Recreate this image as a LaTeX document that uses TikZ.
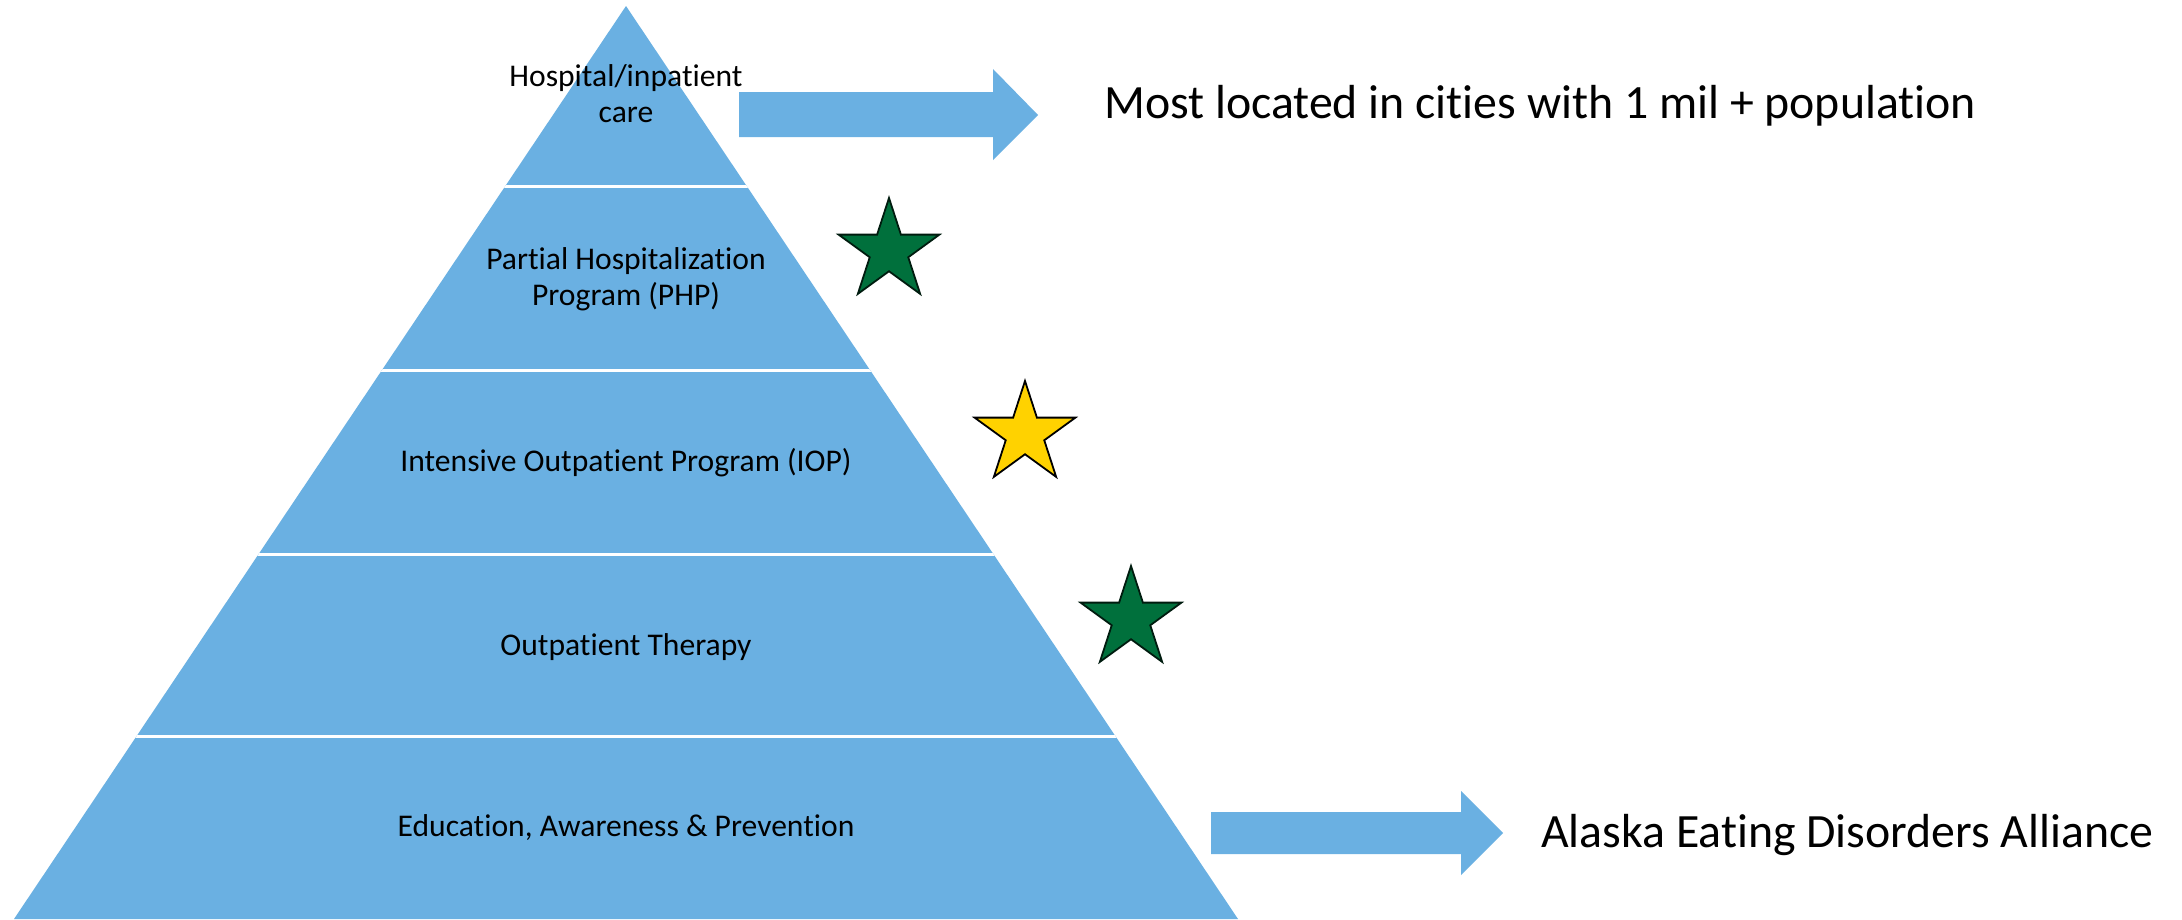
\documentclass[tikz,border=0pt]{standalone}
\usepackage{fontspec}
\setmainfont[Ligatures=NoCommon]{Carlito}
\usetikzlibrary{shapes.geometric}
\definecolor{pyrblue}{RGB}{106,176,226}
\definecolor{stargreen}{RGB}{0,112,60}
\definecolor{staryellow}{RGB}{255,210,0}
\begin{document}
\begin{tikzpicture}[x=1pt,y=-1pt,
  lvl/.style={font=\fontsize{31.6}{36}\selectfont, align=center, text=black, inner sep=0pt},
  side/.style={font=\fontsize{47.8}{56}\selectfont, anchor=base west, inner sep=0pt, text=black},
  blockarrow/.style={fill=pyrblue},
  sepline/.style={draw=white, line width=3pt},
  starbase/.style={star, star points=5, star point ratio=2.618, minimum size=106pt, inner sep=0pt, line width=1.8pt},
  gstar/.style={starbase, fill=stargreen, draw=black!75!stargreen},
  ystar/.style={starbase, fill=staryellow, draw=black}
]
\fill[white] (0,0) rectangle (2182,919);
\useasboundingbox (0,0) rectangle (2182,919);

% pyramid
\fill[pyrblue] (626,6) -- (1238,919) -- (14,919) -- cycle;
\begin{scope}
  \clip (626,6) -- (1238,919) -- (14,919) -- cycle;
  \draw[sepline] (0,186) -- (2182,186);
  \draw[sepline] (0,370) -- (2182,370);
  \draw[sepline] (0,554.5) -- (2182,554.5);
  \draw[sepline] (0,736) -- (2182,736);
\end{scope}

% level labels
\node[lvl] (l1) at (626,94) {Hospital/inpatient\\care};
\node[lvl] (l2) at (626,279) {Partial Hospitalization\\Program (PHP)};
\node[lvl] (l3) at (626,463) {Intensive Outpatient Program (IOP)};
\node[lvl] (l4) at (626,647) {Outpatient Therapy};
\node[lvl] (l5) at (626,828) {Education, Awareness \& Prevention};

% block arrows
\fill[blockarrow] (739,92) -- (993,92) -- (993,69) -- (1038,115) -- (993,160) -- (993,137) -- (739,137) -- cycle;
\fill[blockarrow] (1211,812) -- (1461,812) -- (1461,791) -- (1503,833) -- (1461,875) -- (1461,854) -- (1211,854) -- cycle;

% side texts
\node[side] (t1) at (1104,118) {Most located in cities with 1 mil + population};
\node[side] (t2) at (1541,847) {Alaska Eating Disorders Alliance};

% stars
\node[gstar] (s1) at (889,251) {};
\node[ystar] (s2) at (1025,434) {};
\node[gstar] (s3) at (1131,619) {};
\end{tikzpicture}
\end{document}
